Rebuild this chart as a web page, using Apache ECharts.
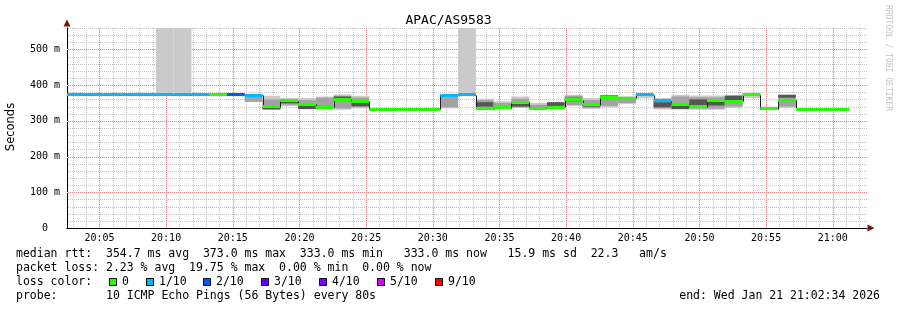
<!DOCTYPE html>
<html><head><meta charset="utf-8">
<script src="https://cdn.jsdelivr.net/npm/echarts@6/dist/echarts.min.js"></script>
<style>html,body{margin:0;padding:0;background:#fff}#c{width:897px;height:310px}</style>
</head><body><div id="c"></div>
<script>
// ---- data (time in seconds after 20:00:00, latency in ms) ----
const title = 'APAC/AS9583';
const startSec = 154;      // 20:02:34
const endSec = 3754;       // 21:02:34
const stepSec = 80;
const xTickValues = [300,600,900,1200,1500,1800,2100,2400,2700,3000,3300,3600];
const xTickLabels = ['20:05','20:10','20:15','20:20','20:25','20:30','20:35','20:40','20:45','20:50','20:55','21:00'];
const yTickValues = [0,100,200,300,400,500];
const yMax = 560;

const median = [373,373,373,373,373,373,373,373, 373,373,372, 340,357,347,338,360,355, 333,333,333,333,
  372,373, 334,337,352,336,338,359,345,365,363,373,356,347,340,358,355,373,334,358, 333,333,333];
const lossTenths = [1,1,1,1,1,1,1,1, 0,2,1, 0,0,0,0,0,0, 0,0,0,0,
  1,1, 0,0,0,0,0,0,0,0,0,1,1,0,0,0,0,0,0,0, 0,0,0];
const smokeMin = [null,null,null,null,null,373,373,null, null,null,353, 331,341,333,335,331,335, null,null,null,null,
  335,370, 334,335,336,334,336,342,333,338,347,363,332,332,331,331,336,364,334,336, null,null,null];
const smokeMax = [null,null,null,null,null,610,610,null, null,null,372, 370,364,364,368,374,370, null,null,null,null,
  372,610, 362,355,368,350,353,373,364,373,369,373,364,373,371,371,373,373,340,373, null,null,null];
const midLo = [null,null,null,null,null,null,null,null, null,null,353, 333,345,335,336,335,338, null,null,null,null,
  338,null, 336,336,338,335,338,344,336,342,350,null,335,334,334,334,340,null,null,340, null,null,null];
const midHi = [null,null,null,null,null,null,null,null, null,null,370, 360,361,358,365,370,365, null,null,null,null,
  368,null, 358,350,362,345,352,370,358,371,366,null,360,368,366,366,371,null,null,371, null,null,null];
const coreLo = [null,null,null,null,null,null,null,null, null,null,null, 332,349,333,null,360,341, null,null,null,null,
  null,null, 340,null,340,null,342,355,340,362,null,null,338,333,343,343,358,null,null,365, null,null,null];
const coreHi = [null,null,null,null,null,null,null,null, null,null,null, 338,353,345,null,368,350, null,null,null,null,
  null,null, 352,null,350,null,352,365,348,371,null,null,352,345,360,355,370,null,null,373, null,null,null];

const lossLabels = ['0','1/10','2/10','3/10','4/10','5/10','9/10'];
const lossTenthValues = [0,1,2,3,4,5,9];
const lossColors = ['#26ff00','#00b8ff','#0059ff','#5e00ff','#7e00ff','#dd00ff','#ff0000'];

const statLines = [
  'median rtt:  354.7 ms avg  373.0 ms max  333.0 ms min   333.0 ms now   15.9 ms sd  22.3   am/s',
  'packet loss: 2.23 % avg  19.75 % max  0.00 % min  0.00 % now',
  'loss color:',
  'probe:       10 ICMP Echo Pings (56 Bytes) every 80s'
];
const endText = 'end: Wed Jan 21 21:02:34 2026';
const credit = 'RRDTOOL / TOBI OETIKER';

// ---- derived ----
const stepData = median.map((m, k) => [startSec + k * stepSec, startSec + (k + 1) * stepSec, m]);
const vMinor = [], vMajor = [];
for (let s = 180; s < endSec; s += 60) (s % 300 === 0 ? vMajor : vMinor).push(s);
const hMinor = [], hMajor = [];
for (let v = 20; v <= yMax; v += 20) (v % 100 === 0 ? hMajor : hMinor).push(v);

const MONO = 'DejaVu Sans Mono';
const minorCol = '#c4c4c4';
const majorCol = '#ee8585';
const majorTint = '#fbe0e0';

function colorForLoss(t) {
  const i = lossTenthValues.indexOf(t);
  return lossColors[i >= 0 ? i : lossColors.length - 1];
}

// grid drawn as dotted lines made of 1px rects (through the axis scales)
function renderGrid(params, api) {
  const cs = params.coordSys;
  const children = [];
  function vline(val, color, tint) {
    const x = Math.round(api.coord([val, 0])[0]);
    if (tint) children.push({type: 'rect', shape: {x: x, y: cs.y, width: 1, height: cs.height}, style: {fill: tint}});
    for (let y = Math.round(cs.y); y < cs.y + cs.height; y += 2)
      children.push({type: 'rect', shape: {x: x, y: y, width: 1, height: 1}, style: {fill: color}});
  }
  function hline(val, color, tint) {
    const y = Math.round(api.coord([startSec, val])[1]);
    if (tint) children.push({type: 'rect', shape: {x: cs.x, y: y, width: cs.width, height: 1}, style: {fill: tint}});
    for (let x = Math.round(cs.x) + 1; x < cs.x + cs.width; x += 2)
      children.push({type: 'rect', shape: {x: x, y: y, width: 1, height: 1}, style: {fill: color}});
  }
  vMinor.forEach(v => vline(v, minorCol));
  hMinor.forEach(v => hline(v, minorCol));
  vMajor.forEach(v => vline(v, majorCol, majorTint));
  hMajor.forEach(v => hline(v, majorCol, majorTint));
  return {type: 'group', silent: true, children};
}

function renderSteps(params, api) {
  const k = params.dataIndex;
  const cs = params.coordSys;
  const area = {x: cs.x, y: cs.y, width: cs.width, height: cs.height};
  const x0 = api.value(0), x1 = api.value(1);
  const children = [];
  function band(lo, hi, color) {
    if (lo == null || hi == null) return;
    const a = api.coord([x0, hi]), b = api.coord([x1, lo]);
    const h = Math.max(b[1] - a[1], 1);
    const r = echarts.graphic.clipRectByRect({x: a[0], y: a[1], width: b[0] - a[0], height: h}, area);
    if (r) children.push({type: 'rect', shape: r, style: {fill: color}});
  }
  band(smokeMin[k], smokeMax[k], '#cacaca');
  band(midLo[k], midHi[k], '#a2a2a2');
  band(coreLo[k], coreHi[k], '#555555');
  const p0 = api.coord([x0, median[k]]), p1 = api.coord([x1, median[k]]);
  const yy = Math.round(p0[1]) + 0.5;
  children.push({type: 'line', shape: {x1: p0[0], y1: yy, x2: p1[0], y2: yy}, style: {stroke: '#202020', lineWidth: 1}});
  if (k > 0) {
    const py = Math.round(api.coord([x0, median[k - 1]])[1]) + 0.5;
    const xx = Math.round(p0[0]) + 0.5;
    children.push({type: 'line', shape: {x1: xx, y1: py, x2: xx, y2: yy}, style: {stroke: '#202020', lineWidth: 1}});
  }
  const top = Math.round(p0[1] - 1.5);
  children.push({type: 'rect', shape: {x: p0[0], y: top, width: p1[0] - p0[0], height: 3},
    style: {fill: colorForLoss(lossTenths[k])}});
  return {type: 'group', children};
}

const chart = echarts.init(document.getElementById('c'), null, {renderer: 'canvas'});

const graphics = [];
graphics.push({type: 'text', x: 11, y: 127, rotation: Math.PI / 2,
  style: {text: 'Seconds', font: '11.5px "DejaVu Sans"', fill: '#000', align: 'center', verticalAlign: 'middle'}});
graphics.push({type: 'text', x: 888, y: 5, rotation: -Math.PI / 2,
  style: {text: credit, font: '8px "DejaVu Sans Mono"', fill: '#c4c4c4', align: 'left', verticalAlign: 'middle'}});
const rowY = [254, 268, 282, 296];
statLines.forEach((t, i) => graphics.push({type: 'text', x: 16, y: rowY[i],
  style: {text: t, font: '11.5px "' + MONO + '"', fill: '#000', align: 'left', verticalAlign: 'middle'}}));
graphics.push({type: 'text', x: 880, y: rowY[3],
  style: {text: endText, font: '11.5px "' + MONO + '"', fill: '#000', align: 'right', verticalAlign: 'middle'}});
const boxX = [109, 146, 203, 261, 319, 377, 435];
lossLabels.forEach((lab, i) => {
  graphics.push({type: 'rect', shape: {x: boxX[i] + 0.5, y: 278.5, width: 7, height: 7},
    style: {fill: lossColors[i], stroke: '#000', lineWidth: 1}});
  graphics.push({type: 'text', x: boxX[i] + 13, y: rowY[2],
    style: {text: lab, font: '11.5px "' + MONO + '"', fill: '#000', align: 'left', verticalAlign: 'middle'}});
});

chart.setOption({
  backgroundColor: '#ffffff',
  animation: false,
  title: {text: title, left: 'center', top: 9,
    textStyle: {fontFamily: MONO, fontSize: 13, fontWeight: 'normal', color: '#000'}},
  grid: {left: 67, right: 30, top: 28, bottom: 82, containLabel: false, outerBoundsMode: 'none'},
  xAxis: [
    {type: 'value', min: startSec, max: endSec, position: 'bottom',
     axisLine: {show: true, symbol: ['none', 'triangle'], symbolSize: [7, 7], symbolOffset: [0, 4],
       lineStyle: {color: '#7f1010', width: 1}},
     axisTick: {show: false}, axisLabel: {show: false}, splitLine: {show: false}},
    {type: 'value', min: startSec, max: endSec, position: 'bottom',
     axisLine: {show: true, lineStyle: {color: '#000', width: 1}},
     axisTick: {show: false},
     axisLabel: {show: true, customValues: xTickValues, margin: 5,
       fontFamily: MONO, fontSize: 10, color: '#000',
       formatter: v => { const i = xTickValues.indexOf(v); return i >= 0 ? xTickLabels[i] : ''; }},
     splitLine: {show: false}}
  ],
  yAxis: [
    {type: 'value', min: 0, max: yMax, position: 'left',
     axisLine: {show: true, symbol: ['none', 'triangle'], symbolSize: [7, 7], symbolOffset: [0, 5],
       lineStyle: {color: '#7f1010', width: 1}},
     axisTick: {show: false}, axisLabel: {show: false}, splitLine: {show: false}},
    {type: 'value', min: 0, max: yMax, position: 'left',
     axisLine: {show: true, lineStyle: {color: '#000', width: 1}},
     axisTick: {show: false},
     axisLabel: {show: true, customValues: yTickValues, margin: 7,
       fontFamily: MONO, fontSize: 10, color: '#000',
       formatter: v => v === 0 ? '0  ' : v + ' m'},
     splitLine: {show: false}}
  ],
  series: [
    {type: 'custom', name: 'grid', xAxisIndex: 1, yAxisIndex: 1, renderItem: renderGrid,
     data: [[startSec, 0]], encode: {x: 0, y: 1}, z: 1, silent: true},
    {type: 'custom', name: 'rtt', xAxisIndex: 1, yAxisIndex: 1, renderItem: renderSteps,
     data: stepData, encode: {x: [0, 1], y: 2}, z: 3}
  ],
  graphic: graphics
});
</script></body></html>
